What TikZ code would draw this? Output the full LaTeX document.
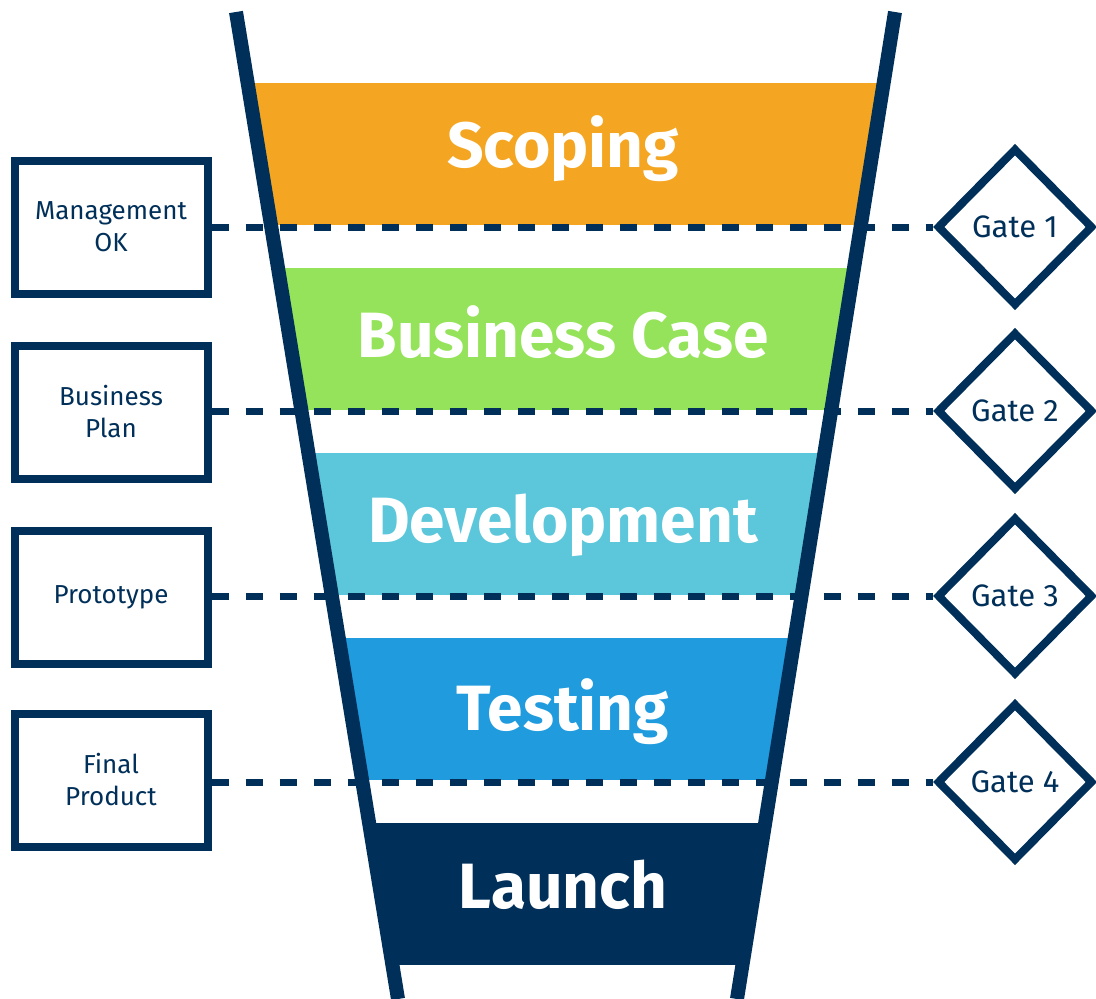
\documentclass[tikz,border=0pt]{standalone}
\usepackage{fontspec}
\setmainfont{Fira Sans}
\usetikzlibrary{shapes.geometric}
\definecolor{navy}{RGB}{0,48,89}
\definecolor{scopeorange}{RGB}{244,166,35}
\definecolor{casegreen}{RGB}{149,227,90}
\definecolor{devcyan}{RGB}{92,199,219}
\definecolor{testblue}{RGB}{31,155,222}

\begin{document}
\begin{tikzpicture}[x=1pt,y=-1pt,
    milestone/.style={draw=navy,line width=8pt,fill=white,minimum width=193pt,minimum height=133pt,
      align=center,text=navy,font=\fontsize{26}{32}\selectfont},
    gate/.style={diamond,draw=navy,line width=8pt,fill=white,minimum width=156pt,minimum height=158pt,
      inner sep=0pt,text=navy,font=\fontsize{31}{36}\selectfont},
    stage/.style={anchor=base,text=white,font=\fontsize{64}{70}\selectfont\bfseries},
    link/.style={draw=navy,line width=7pt,dash pattern=on 17pt off 17pt}]
    \useasboundingbox (0,0) rectangle (1096,999);
    % coloured stages, cut to the funnel
    \begin{scope}
      \clip (236,12) -- (895,12) -- (737,999) -- (398,999) -- cycle;
      \fill[scopeorange] (0,83) rectangle (1096,225);
      \fill[casegreen] (0,268) rectangle (1096,410);
      \fill[devcyan] (0,453) rectangle (1096,595);
      \fill[testblue] (0,638) rectangle (1096,780);
      \fill[navy] (0,823) rectangle (1096,965);
    \end{scope}
    \node[stage] (scoping) at (563,167) {Scoping};
    \node[stage] (case) at (563,357) {Business Case};
    \node[stage] (dev) at (563,542) {Development};
    \node[stage] (testing) at (563,730) {Testing};
    \node[stage] (launch) at (563,908) {Launch};
    % deliverables and gates
    \node[milestone] (mgmt) at (111,227) {Management\\OK};
    \node[milestone] (plan) at (111,412) {Business\\Plan};
    \node[milestone] (proto) at (111,597) {Prototype};
    \node[milestone] (final) at (111,780) {Final\\Product};
    \node[gate] (gate1) at (1015,227) {Gate 1};
    \node[gate] (gate2) at (1015,411) {Gate 2};
    \node[gate] (gate3) at (1015,596) {Gate 3};
    \node[gate] (gate4) at (1015,782) {Gate 4};
    \draw[link] (mgmt.east) -- (gate1.west);
    \draw[link] (plan.east |- gate2.west) -- (gate2.west);
    \draw[link] (proto.east |- gate3.west) -- (gate3.west);
    \draw[link] (final.east |- gate4.west) -- (gate4.west);
    % funnel walls
    \draw[navy,line width=14pt] (236,12) -- (398,999);
    \draw[navy,line width=14pt] (895,12) -- (737,999);
\end{tikzpicture}
\end{document}
